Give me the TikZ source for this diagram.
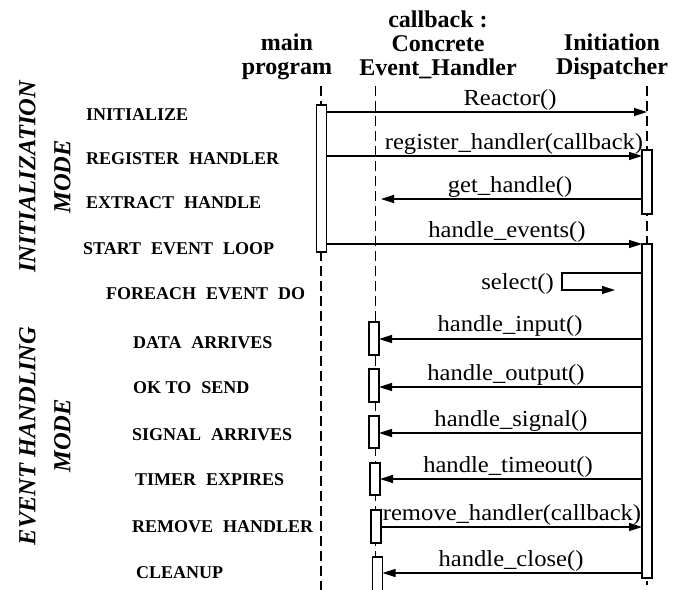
\documentclass[tikz,border=0pt]{standalone}
\usepackage{fontspec}
\setmainfont{Liberation Serif}
\newfontfamily\msgfamilyx[FakeStretch=1.07]{Liberation Serif}
\usetikzlibrary{arrows.meta}
\newcommand\msgfontx{\msgfamilyx\fontsize{23}{24}\selectfont}
\newcommand\headfontx{\bfseries\fontsize{24}{24}\selectfont}
\newcommand\stagefontx{\bfseries\fontsize{18}{20}\selectfont}
\newcommand\modefontx{\bfseries\itshape\fontsize{24.5}{35}\selectfont}
\newcommand\wgap{\hspace{0.55em}}
\begin{document}
\begin{tikzpicture}[x=1pt,y=-1pt,
  lifeline/.style={line width=1.2pt, dash pattern=on 10pt off 5pt},
  actbox/.style={draw, fill=white, line width=1.2pt, minimum width=10pt, inner sep=0pt, outer sep=0pt},
  msg/.style={line width=1.4pt, -{Triangle[length=13pt,width=8pt]}},
  msgtext/.style={font=\msgfontx, inner sep=0pt, anchor=base},
  header/.style={font=\headfontx, align=center, inner sep=0pt},
  stagelabel/.style={font=\stagefontx, anchor=base west, inner sep=0pt},
  modelabel/.style={font=\modefontx, rotate=90, inner sep=0pt, align=center}]
\useasboundingbox (0,0) rectangle (688,589);

% object headers
\node[header] (hMain) at (287,57) {main\\program};
\node[header] (hCb) at (438,45) {callback :\\Concrete\\Event\_Handler};
\node[header] (hDisp) at (612,57) {Initiation\\Dispatcher};

% lifeline ends
\coordinate (mainTop) at (321,86);
\coordinate (mainBot) at (321,592);
\coordinate (cbTop) at (375.5,86);
\coordinate (cbBot) at (375.5,592);
\coordinate (dispTop) at (647,86);
\coordinate (dispBot) at (647,585);
\draw[lifeline] (mainTop) -- (mainBot);
\draw[lifeline] (cbTop) -- (cbBot);
\draw[lifeline] (dispTop) -- (dispBot);

% activation boxes
\node[actbox, minimum height=147pt] (mainAct) at (321.5,178.5) {};
\node[actbox, minimum height=64pt] (dispAct1) at (647,182) {};
\node[actbox, minimum height=334pt] (dispAct2) at (647,411) {};
\node[actbox, minimum height=33pt] (cbAct1) at (374,338.5) {};
\node[actbox, minimum height=33pt] (cbAct2) at (374,385.5) {};
\node[actbox, minimum height=32pt] (cbAct3) at (374,432) {};
\node[actbox, minimum height=32pt] (cbAct4) at (375,479) {};
\node[actbox, minimum height=33pt] (cbAct5) at (376,526.5) {};
\node[actbox, minimum height=38pt] (cbAct6) at (377.5,576) {};

% message rows
\coordinate (yReactor) at (0,112);
\coordinate (yRegister) at (0,156);
\coordinate (yGet) at (0,199);
\coordinate (yEvents) at (0,244);
\coordinate (ySelect) at (0,273);
\coordinate (yInput) at (0,339);
\coordinate (yOutput) at (0,387);
\coordinate (ySignal) at (0,433);
\coordinate (yTimeout) at (0,479);
\coordinate (yRemove) at (0,527);
\coordinate (yClose) at (0,573);
\coordinate (getEnd) at (381,199);

% initialization messages
\draw[msg] (mainAct.east |- yReactor) -- (dispTop |- yReactor);
\draw[msg] (mainAct.east |- yRegister) -- (dispAct1.west |- yRegister);
\draw[msg] (dispAct1.west |- yGet) -- (getEnd);
\draw[msg] (mainAct.east |- yEvents) -- (dispAct2.west |- yEvents);

% event loop
\draw[msg] (dispAct2.west |- ySelect) -- ++(-80,0) -- ++(0,17) -- ++(53,0);
\draw[msg] (dispAct2.west |- yInput) -- (cbAct1.east |- yInput);
\draw[msg] (dispAct2.west |- yOutput) -- (cbAct2.east |- yOutput);
\draw[msg] (dispAct2.west |- ySignal) -- (cbAct3.east |- ySignal);
\draw[msg] (dispAct2.west |- yTimeout) -- (cbAct4.east |- yTimeout);
\draw[msg] (cbAct5.east |- yRemove) -- (dispAct2.west |- yRemove);
\draw[msg] (dispAct2.west |- yClose) -- (cbAct6.east |- yClose);

% message labels
\node[msgtext] (lReactor) at (510,105) {Reactor()};
\node[msgtext] (lRegister) at (514,149) {register\_handler(callback)};
\node[msgtext] (lGet) at (510,192) {get\_handle()};
\node[msgtext] (lEvents) at (507,237) {handle\_events()};
\node[msgtext, anchor=base east] (lSelect) at (554,289) {select()};
\node[msgtext] (lInput) at (510,331) {handle\_input()};
\node[msgtext] (lOutput) at (506,380) {handle\_output()};
\node[msgtext] (lSignal) at (511,426) {handle\_signal()};
\node[msgtext] (lTimeout) at (508,472) {handle\_timeout()};
\node[msgtext] (lRemove) at (512,520) {remove\_handler(callback)};
\node[msgtext] (lClose) at (511,566) {handle\_close()};

% stage labels
\node[stagelabel] (sInit) at (86,120) {INITIALIZE};
\node[stagelabel] (sReg) at (86,164) {REGISTER\wgap HANDLER};
\node[stagelabel] (sExt) at (86,208) {EXTRACT\wgap HANDLE};
\node[stagelabel] (sStart) at (83,254) {START\wgap EVENT\wgap LOOP};
\node[stagelabel] (sEach) at (106,299) {FOREACH\wgap EVENT\wgap DO};
\node[stagelabel] (sData) at (133,348) {DATA\wgap ARRIVES};
\node[stagelabel] (sOk) at (133,393) {OK TO\wgap SEND};
\node[stagelabel] (sSig) at (132,440) {SIGNAL\wgap ARRIVES};
\node[stagelabel] (sTimer) at (135,485) {TIMER\wgap EXPIRES};
\node[stagelabel] (sRem) at (132,532) {REMOVE\wgap HANDLER};
\node[stagelabel] (sClean) at (136,578) {CLEANUP};

% mode labels
\node[modelabel] (mInit) at (45,177) {INITIALIZATION\\MODE};
\node[modelabel] (mEvent) at (45,436) {EVENT HANDLING\\MODE};
\end{tikzpicture}
\end{document}
